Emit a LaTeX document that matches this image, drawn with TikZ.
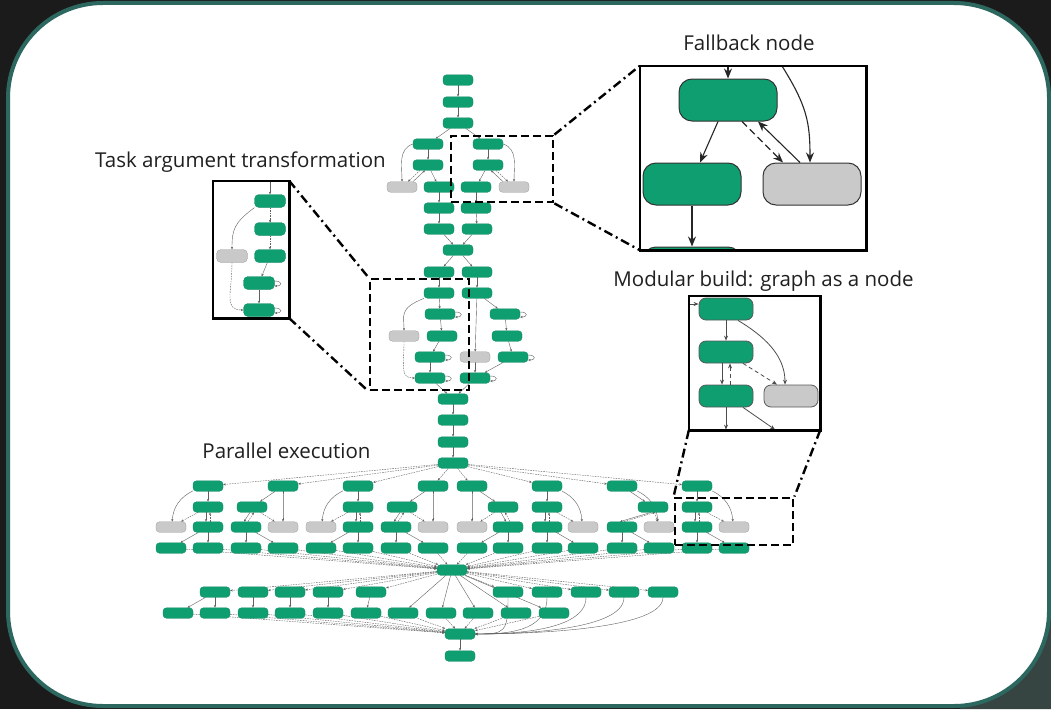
\documentclass[tikz,border=0pt]{standalone}
\usepackage{fontspec}
\setmainfont{Open Sans}
\usetikzlibrary{arrows.meta}
\definecolor{bgdark}{RGB}{27,27,27}
\definecolor{bgcorner}{RGB}{54,68,66}
\definecolor{framec}{RGB}{44,104,96}
\definecolor{tgreen}{RGB}{14,158,112}
\definecolor{tgray}{RGB}{201,201,201}
\definecolor{edgec}{RGB}{95,95,95}
\definecolor{labelc}{RGB}{32,32,32}
\pgfdeclarelayer{back}
\pgfdeclarelayer{edges}
\pgfsetlayers{back,edges,main}
\newcommand{\selfedge}[1]{\draw[link] ([yshift=2pt]#1.east) .. controls +(8,0) and +(8,0) .. ([yshift=-3pt]#1.east);}
\tikzset{
  gnode/.style={rectangle,rounded corners=3.5pt,minimum width=30pt,minimum height=10.5pt,inner sep=0pt,fill=tgreen,draw=tgreen!85!black,line width=0.3pt},
  fnode/.style={gnode,fill=tgray,draw=black!40},
  link/.style={-{Stealth[length=2.6pt,width=2.2pt]},line width=0.4pt,draw=edgec},
  dlink/.style={link,dash pattern=on 1.6pt off 1pt},
  tnode/.style={gnode,rounded corners=4.5pt,minimum width=31pt,minimum height=13pt},
  mnode/.style={gnode,rounded corners=7pt,minimum width=54pt,minimum height=22pt,draw=black!65,line width=0.8pt},
  bnode/.style={gnode,rounded corners=13pt,minimum width=98pt,minimum height=42pt,draw=black!80,line width=1pt},
  mlink/.style={-{Stealth[length=5pt,width=4pt]},line width=0.8pt,draw=black!70},
  blink/.style={-{Stealth[length=10pt,width=8pt]},line width=1.1pt,draw=black!85},
  inbg/.style={rectangle,inner sep=0pt,fill=white,draw=none},
  inframe/.style={draw=black,line width=2.6pt},
  dbox/.style={rectangle,inner sep=0pt,draw=black,line width=2.8pt,dash pattern=on 8pt off 4pt},
  ddot/.style={draw=black,line width=2.4pt,dash pattern=on 9pt off 4pt on 2pt off 4pt},
  lbl/.style={inner sep=0pt,text=labelc,font=\fontsize{20.5}{24}\selectfont}
}
\begin{document}
\begin{tikzpicture}[x=1pt,y=-1pt]
\useasboundingbox (0,0) rectangle (1051,709);
\begin{pgfonlayer}{back}
\fill[bgdark] (0,0) rectangle (1051,709);
\fill[bgcorner] (960,709) -- (1051,600) -- (1051,709) -- cycle;
\draw[framec,line width=4pt,fill=white,rounded corners=95pt] (8,3) rectangle (1049,706);
\end{pgfonlayer}

\node[gnode] (a1) at (458,80) {};
\node[gnode] (a2) at (458,102) {};
\node[gnode] (a3) at (458,123) {};
\node[gnode] (b1) at (428,144) {};
\node[gnode] (c1) at (488,144) {};
\node[gnode] (b2) at (428,165) {};
\node[gnode] (c2) at (488,165) {};
\node[fnode] (g1) at (402,187) {};
\node[gnode] (b3) at (439,187) {};
\node[gnode] (c3) at (476,187) {};
\node[fnode] (g2) at (514,187) {};
\node[gnode] (d1) at (439,208) {};
\node[gnode] (d2) at (476,208) {};
\node[gnode] (e1) at (439,229) {};
\node[gnode] (e2) at (477,229) {};
\node[gnode] (m1) at (458,250) {};
\node[gnode] (f1) at (439,272) {};
\node[gnode] (f2) at (477,272) {};
\node[gnode] (h1) at (439,293) {};
\node[gnode] (h2) at (477,293) {};
\node[gnode] (l1) at (440,314) {};
\node[gnode] (r1) at (505,314) {};
\node[fnode] (g3) at (404,336) {};
\node[gnode] (l2) at (442,336) {};
\node[gnode] (r2) at (507,336) {};
\node[gnode] (l3) at (430,357) {};
\node[fnode] (g4) at (475,357) {};
\node[gnode] (r3) at (513,357) {};
\node[gnode] (l4) at (430,378) {};
\node[gnode] (r4) at (475,378) {};
\node[gnode] (s1) at (453,399) {};
\node[gnode] (s2) at (453,420) {};
\node[gnode] (s3) at (453,442) {};
\node[gnode] (s4) at (453,463) {};

\foreach \x in {208,283,358,433,472,547,622,697} \node[gnode] (u\x) at (\x,486) {};
\foreach \x in {208,252,358,402,503,547,653,697} \node[gnode] (v\x) at (\x,507) {};
\foreach \x in {208,246,358,396,508,547,622,697} \node[gnode] (q\x) at (\x,527) {};
\foreach \x in {171,283,321,433,472,583,659,734} \node[fnode] (q\x) at (\x,527) {};
\foreach \x in {171,208,246,283,321,358,396,433,472,508,547,583,622,659,697,734} \node[gnode] (w\x) at (\x,548) {};

\node[gnode] (hub) at (452,570) {};
\foreach \x in {215,253,290,328,371,508,547,586,624,663} \node[gnode] (y\x) at (\x,592) {};
\foreach \x in {178,215,253,290,328,366,403,441,478,516,554} \node[gnode] (z\x) at (\x,613) {};
\node[gnode] (fh) at (460,634) {};
\node[gnode] (fz) at (460,656) {};

\begin{pgfonlayer}{edges}
\draw[link] (a1) -- (a2);
\draw[link] (a2) -- (a3);
\draw[link] (a3) -- (b1);
\draw[link] (a3) -- (c1);
\draw[link] (b1) -- (b2);
\draw[link] (c1) -- (c2);
\draw[link] (b1.west) .. controls +(-15,5) and +(0,-15) .. (g1.north);
\draw[link] (c1.east) .. controls +(15,5) and +(0,-15) .. (g2.north);
\draw[dlink] ([xshift=-8pt]b2.south) -- ([xshift=6pt]g1.north);
\draw[link] ([xshift=11pt]g1.north) -- ([xshift=-3pt]b2.south);
\draw[dlink] ([xshift=8pt]c2.south) -- ([xshift=-6pt]g2.north);
\draw[link] ([xshift=-11pt]g2.north) -- ([xshift=3pt]c2.south);
\draw[link] (b2) -- (b3);
\draw[link] (c2) -- (c3);
\draw[link] (b3) -- (d1);
\draw[link] (c3) -- (d2);
\draw[link] (d1) -- (e1);
\draw[link] (d2) -- (e2);
\draw[link] (e1) -- (m1);
\draw[link] (e2) -- (m1);
\draw[link] (m1) -- (f1);
\draw[link] (m1) -- (f2);
\draw[link] (f1) -- (h1);
\draw[link] (f2) -- (h2);
\draw[link] (h1) -- (l1);
\draw[link] (l1) -- (l2);
\draw[link] (l2) -- (l3);
\draw[link] (l3) -- (l4);
\draw[link] (h1.south west) .. controls +(-25,10) and +(0,-15) .. (g3.north);
\draw[dlink] (g3.south) .. controls +(0,25) and +(-15,0) .. (l4.west);
\draw[link] (h2) -- (r1);
\draw[link] (r1) -- (r2);
\draw[link] (r2) -- (r3);
\draw[link] (r3) -- (r4);
\draw[link] (h2) -- (g4);
\draw[link] (g4) -- (r4);
\selfedge{l1} \selfedge{r1} \selfedge{l3} \selfedge{r3} \selfedge{l4} \selfedge{r4}
\draw[link] (l4) -- (s1);
\draw[link] (r4) -- (s1);
\draw[link] (s1) -- (s2);
\draw[link] (s2) -- (s3);
\draw[link] (s3) -- (s4);

\foreach \x in {208,283,358,433,472,547,622,697} \draw[dlink] (s4) -- (u\x);
\foreach \t/\m/\n/\g/\l/\r/\b in {208/208/208/171/171/208/-30,283/252/246/283/246/283/0,358/358/358/321/321/358/-30,433/402/396/433/396/433/0,472/503/508/472/472/508/0,547/547/547/583/547/583/30,622/653/622/659/622/659/30,697/697/697/734/697/734/30}{
  \draw[link] (u\t) -- (v\m);
  \draw[link] ([xshift=-2pt]v\m.south) -- ([xshift=-2pt]q\n.north);
  \draw[dlink] ([xshift=2pt]q\n.north) -- ([xshift=2pt]v\m.south);
  \draw[dlink] (v\m) -- (q\g);
  \draw[link] (u\t) to[bend left=\b] (q\g);
  \draw[link] (q\n) -- (w\l);
  \draw[link] (q\n) -- (w\r);
}
\foreach \x in {171,208,246,283,321,358,396,433,472,508,547,583,622,659,697,734} \draw[dlink] (w\x) -- (hub);
\foreach \x in {215,253,290,328,371,508,547,586,624,663} \draw[dlink] (hub) -- (y\x);
\foreach \a/\b in {215/178,215/215,253/253,290/290,328/328,371/366} \draw[link] (y\a) -- (z\b);
\foreach \x in {403,441,478,516,554} \draw[link] (hub) -- (z\x);
\foreach \x in {178,215,253,290,328,366,403,441,478,516,554} \draw[dlink] (z\x) -- (fh);
\foreach \x in {508,547,586,624,663} \draw[link] (y\x.south) .. controls +(0,35) and +(30,0) .. (fh.east);
\draw[link] (fh) -- (fz);
\end{pgfonlayer}

\node[dbox,minimum width=102pt,minimum height=66pt] (dbox1) at (502,169) {};
\node[dbox,minimum width=99pt,minimum height=111pt] (dbox2) at (419.5,334.5) {};
\node[dbox,minimum width=118pt,minimum height=47pt] (dbox3) at (734,521.5) {};

\node[inbg,minimum width=226pt,minimum height=184pt] (fbox) at (753,158) {};
\begin{scope}
\clip (fbox.north west) rectangle (fbox.south east);
\node[bnode] (ft) at (728,100) {};
\node[bnode] (fl) at (692,184) {};
\node[bnode,fill=tgray] (fg) at (812,184) {};
\node[bnode] (fb) at (692,268) {};
\coordinate (fin) at (728,66);
\coordinate (fin2) at (782,66);
\draw[blink] (fin) -- (ft);
\draw[blink] (fin2) .. controls +(25,40) and +(0,-40) .. ([xshift=-2pt]fg.north);
\draw[blink] ([xshift=-10pt]ft.south) -- ([xshift=8pt]fl.north);
\draw[blink,dash pattern=on 7pt off 4pt] ([xshift=14pt]ft.south) -- ([xshift=-29pt]fg.north);
\draw[blink] ([xshift=-12pt]fg.north) -- ([xshift=30pt]ft.south);
\draw[blink] (fl) -- (fb);
\end{scope}
\draw[inframe] (fbox.north west) rectangle (fbox.south east);

\node[inbg,minimum width=131pt,minimum height=134pt] (mbox) at (754.5,363) {};
\begin{scope}
\clip (mbox.north west) rectangle (mbox.south east);
\node[mnode] (mt) at (726,309) {};
\node[mnode] (mm) at (726,352) {};
\node[mnode] (mb) at (726,396) {};
\node[mnode,fill=tgray] (mg) at (791,396) {};
\node[mnode] (mp1) at (726,441) {};
\node[mnode] (mp2) at (800,441) {};
\coordinate (min) at (689,304);
\draw[mlink] (min) -- (min -| mt.west);
\draw[mlink] (mt) -- (mm);
\draw[mlink] ([xshift=12pt]mt.south) .. controls +(25,15) and +(0,-30) .. ([xshift=-6pt]mg.north);
\draw[mlink] ([xshift=-4pt]mm.south) -- ([xshift=-4pt]mb.north);
\draw[mlink,dash pattern=on 4pt off 3pt] ([xshift=4pt]mb.north) -- ([xshift=4pt]mm.south);
\draw[mlink,dash pattern=on 4pt off 3pt] ([xshift=17pt]mm.south) -- ([xshift=-14pt]mg.north);
\draw[mlink] (mb) -- (mp1);
\draw[mlink] ([xshift=17pt]mb.south) -- ([xshift=-25pt]mp2.north);
\end{scope}
\draw[inframe] (mbox.north west) rectangle (mbox.south east);

\node[inbg,minimum width=76pt,minimum height=137pt] (tbox) at (251,249.5) {};
\node[tnode] (t1) at (270,201) {};
\node[tnode] (t2) at (270,229) {};
\node[tnode,fill=tgray,draw=black!40] (tq) at (232,256) {};
\node[tnode] (t3) at (270,256) {};
\node[tnode] (t4) at (259,283) {};
\node[tnode] (t5) at (259,310) {};
\coordinate (tin) at (270,181);
\draw[link] (tin) -- (t1);
\draw[dlink] (t1) -- (t2);
\draw[dlink] (t2) -- (t3);
\draw[link] (t3) -- (t4);
\draw[link] (t4) -- (t5);
\draw[link] (t1.south west) .. controls +(-20,15) and +(0,-20) .. (tq.north);
\draw[dlink] (tq.south) .. controls +(0,30) and +(-20,0) .. (t5.west);
\selfedge{t4} \selfedge{t5}
\draw[inframe] (tbox.north west) rectangle (tbox.south east);

\draw[ddot] (dbox1.north east) -- (fbox.north west);
\draw[ddot] (dbox1.south east) -- (fbox.south west);
\draw[ddot] (tbox.north east) -- (dbox2.north west);
\draw[ddot] (tbox.south east) -- (dbox2.south west);
\draw[ddot] (mbox.south west) -- (dbox3.north west);
\draw[ddot] (mbox.south east) -- (dbox3.north east);

\node[lbl] (lfall) at (749,43) {Fallback node};
\node[lbl] (lmod) at (763.5,281) {Modular build: graph as a node};
\node[lbl] (ltask) at (240.5,162) {Task argument transformation};
\node[lbl] (lpar) at (286.5,451) {Parallel execution};
\end{tikzpicture}
\end{document}
